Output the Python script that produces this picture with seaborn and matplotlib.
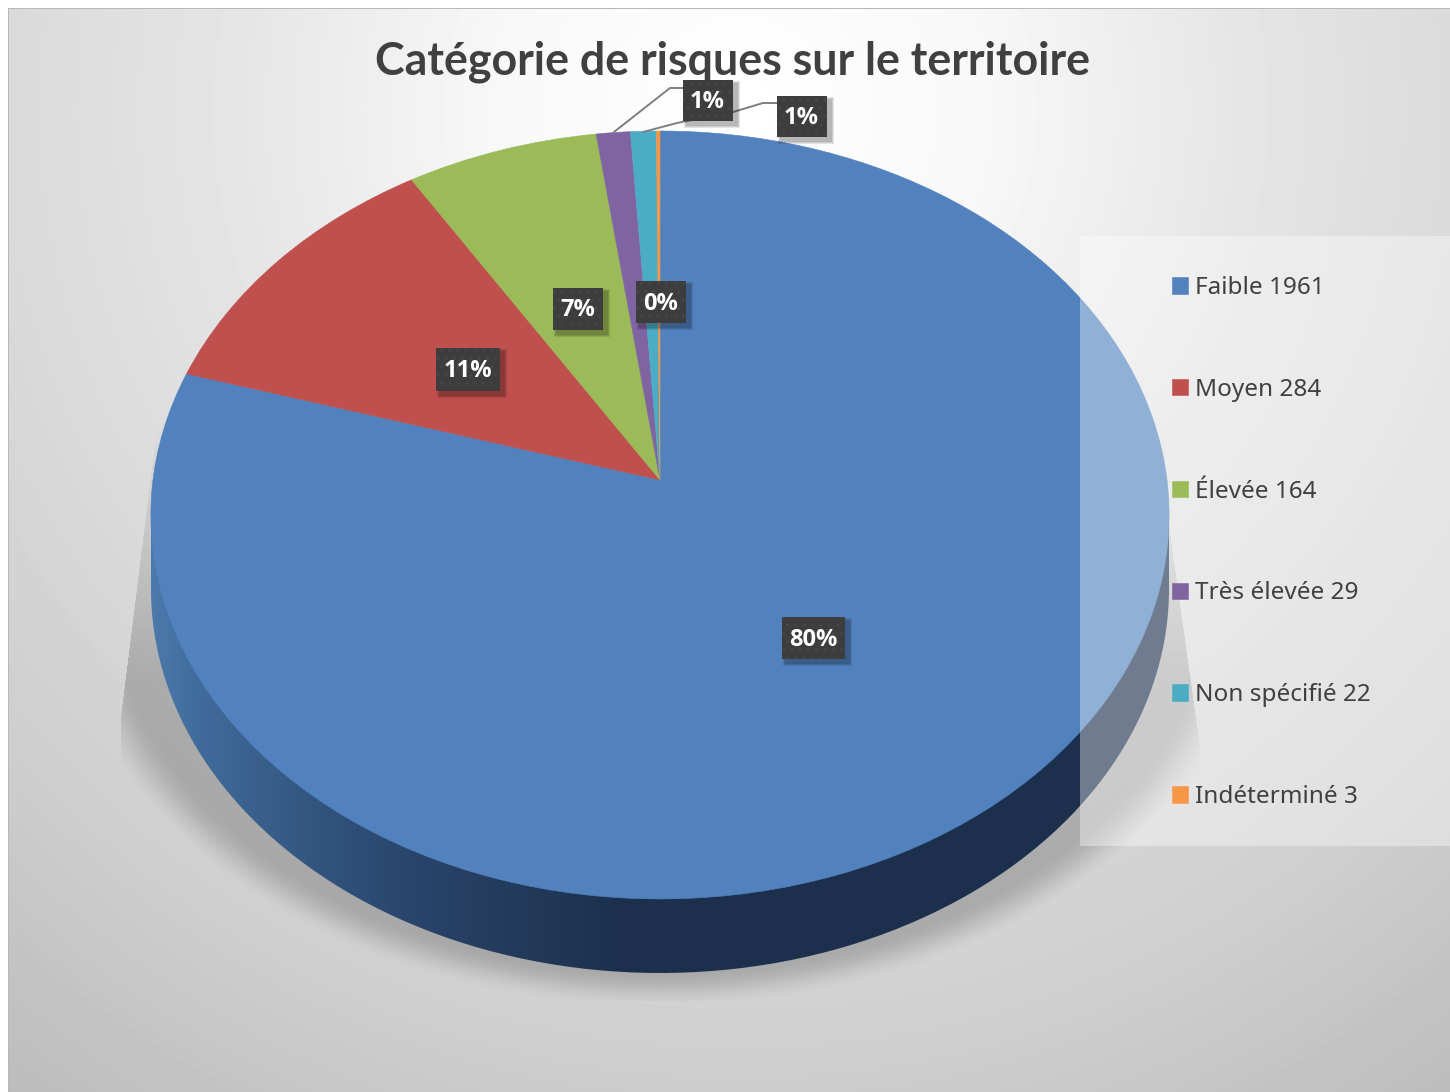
import numpy as np
import matplotlib
matplotlib.use("Agg")
import matplotlib.pyplot as plt
from matplotlib.patches import Rectangle, PathPatch
from matplotlib.path import Path
from matplotlib.transforms import Transform
import seaborn as sns

categories = ["Faible", "Moyen", "Élevée", "Très élevée", "Non spécifié", "Indéterminé"]
counts = [1961, 284, 164, 29, 22, 3]
pct_labels = ["80%", "11%", "7%", "1%", "1%", "0%"]
colors = ["#5182BE", "#C0504D", "#9BBB59", "#8064A2", "#4BACC6", "#F79646"]

# where the dark label boxes sit, in pixels
label_centers = [(813.5, 638), (468, 369.5), (578, 309), (708, 100.5), (802, 116.5), (661, 302)]
label_sizes = [(63, 42), (64, 43), (50, 42), (50, 41), (50, 41), (50, 42)]

sns.set_theme(style="white")
plt.rcParams["font.family"] = ["Noto Sans", "DejaVu Sans"]
W, H = 1450, 1092
fig = plt.figure(figsize=(W / 100, H / 100), dpi=100)
ax = fig.add_axes([0, 0, 1, 1])


# tilted disc: unit circle to pixels, the hub is not at the ellipse centre
class Tilt(Transform):
    input_dims = output_dims = 2
    has_inverse = False

    def transform_non_affine(self, xy):
        xy = np.asarray(xy, dtype=float)
        d = 1 + 0.0911 * xy[:, 1]
        return np.column_stack([660 + 507 * xy[:, 0] / d, 480 - 380.8 * xy[:, 1] / d])


wedges, _ = ax.pie(counts, colors=sns.color_palette(colors), startangle=90, counterclock=False)
tilt = Tilt()
for w, c in zip(wedges, colors):
    w.set_transform(tilt + ax.transData)
    w.set_edgecolor(c)
    w.set_linewidth(0.4)
    w.set_zorder(3)

ax.set_aspect("auto")
ax.set_axis_off()

# background gradient and the soft shadow
yy, xx = np.mgrid[0:H, 0:W]
dist = np.hypot(xx - 740, yy - 110)
bg = np.interp(dist, [0, 250, 500, 750, 950, 1250], [1.0, 0.97, 0.90, 0.85, 0.81, 0.73])
r = np.hypot((xx - 660) / 600, (yy - 590) / 418)
t = np.clip((1.0 - r) / 0.09, 0, 1)
left = np.interp(yy, [400, 720], [160, 120])
right = np.interp(yy, [500, 750], [1165, 1200])
fade = np.clip((yy - 420) / 260, 0, 1)
inside = (yy > 400) & (yy < 1001) & (xx > left) & (xx < right)
bg = bg * (1 - 0.2 * t * t * (3 - 2 * t) * fade * inside)
bg[:8, :] = 1
bg[:, :8] = 1
bg[8, 8:] = 0.72
bg[8:, 8] = 0.72
ax.imshow(bg, cmap="gray", vmin=0, vmax=1, extent=(0, W, H, 0), zorder=0, aspect="auto", interpolation="nearest")

# side wall of the disc
stops_x = [151, 200, 300, 400, 500, 620, 1169]
stops_rgb = np.array([[76, 122, 172], [64, 107, 155], [52, 88, 130], [42, 70, 110], [36, 60, 92], [28, 48, 78], [28, 48, 78]]) / 255
ramp = np.column_stack([np.interp(np.arange(W), stops_x, stops_rgb[:, i]) for i in range(3)])
wall = ax.imshow(ramp[None, :, :], extent=(0, W, 1000, 480), zorder=2, aspect="auto")
a = np.linspace(0, np.pi, 200)
rim = np.column_stack([660 + 509 * np.cos(a), 589 + 384 * np.sin(a)])
rim = np.vstack([rim, [[151, 515], [1169, 515], rim[0]]])
wall.set_clip_path(PathPatch(Path(rim), transform=ax.transData))
ax.set_xlim(0, W)
ax.set_ylim(H, 0)

# legend panel over the pie
ax.add_patch(Rectangle((1080, 236), 370, 610, fc="white", ec="none", alpha=0.37, zorder=4))

# leader lines
ax.plot([614, 670, 684], [132, 88, 88], color="#7f7f7f", lw=1.4, zorder=5)
ax.plot([643, 677, 733, 763, 778], [132, 123, 112, 103, 103], color="#7f7f7f", lw=1.4, zorder=5)

for txt, (cx, cy), (bw, bh) in zip(pct_labels, label_centers, label_sizes):
    # blurry drop shadow, a few stacked see-through boxes
    for grow in [3, 2, 1]:
        ax.add_patch(Rectangle((cx - bw / 2 + 4 - grow, cy - bh / 2 + 4 - grow), bw + 2 * grow, bh + 2 * grow,
                               fc="black", ec="none", alpha=0.1, zorder=5.5))
    ax.add_patch(Rectangle((cx - bw / 2, cy - bh / 2), bw, bh, fc="#3d3d3d", ec="#464646", lw=0, hatch="..", zorder=6))
    ax.text(cx - 0.5, cy + 1.5, txt, color="white", fontsize=17, fontweight="bold", ha="center", va="center",
            family=["Open Sans", "DejaVu Sans"], zorder=7)

ax.text(733, 61.5, "Catégorie de risques sur le territoire", color="#404040", fontsize=32.2, fontweight="bold",
        ha="center", va="center", family=["Lato", "DejaVu Sans"], zorder=5)

leg_labels = [f"{c} {n}" for c, n in zip(categories, counts)]
leg = ax.legend(wedges, leg_labels, loc="upper left", bbox_to_anchor=(1172, 276), bbox_transform=ax.transData,
                frameon=False, fontsize=17.5, labelcolor="#404040", handlelength=0.66, handleheight=0.66,
                handletextpad=0.28, labelspacing=3.2, borderpad=0, borderaxespad=0)
leg.set_zorder(8)

fig.savefig("out.png", dpi=100)
